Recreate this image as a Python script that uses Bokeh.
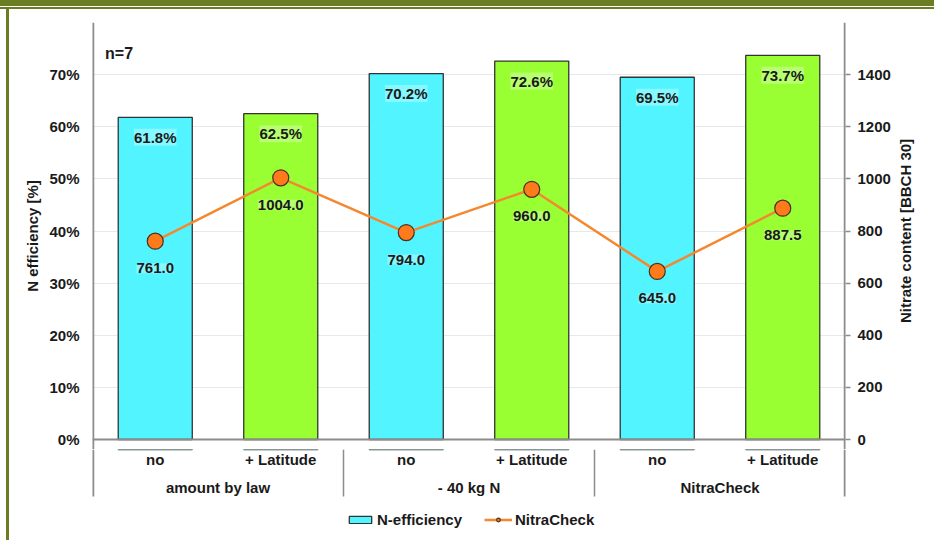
import math
from bokeh.plotting import figure
from bokeh.layouts import column, row
from bokeh.models import (Range1d, LinearAxis, FixedTicker, Span, ColumnDataSource,
                          LabelSet, Label, Legend, LegendItem, CustomJSTickFormatter)
from bokeh.core.properties import value
from bokeh.embed import file_html
from bokeh.resources import INLINE

# ---- data ----
groups = ["amount by law", "- 40 kg N", "NitraCheck"]
subcats = ["no", "+ Latitude", "no", "+ Latitude", "no", "+ Latitude"]
n_efficiency = [61.8, 62.5, 70.2, 72.6, 69.5, 73.7]
nitracheck = [761.0, 1004.0, 794.0, 960.0, 645.0, 887.5]
left_ticks = [0, 10, 20, 30, 40, 50, 60, 70]
right_ticks = [0, 200, 400, 600, 800, 1000, 1200, 1400]
left_title = "N efficiency [%]"
right_title = "Nitrate content [BBCH 30]"
note = "n=7"

FONT = "Liberation Sans"
FS = "15px"
TXT = "#1a1a1a"
CYAN = "#52f5ff"
GREEN = "#99ff33"
ORANGE = "#f5882e"
AXIS_GRAY = "#8c8c8c"

olive = "#6b7d23"
bg = (f"linear-gradient({olive},{olive}) 0 0/100% 6px no-repeat, "
      f"linear-gradient({olive},{olive}) 0 7px/100% 2px no-repeat, "
      f"linear-gradient({olive},{olive}) 6px 7px/3px 100% no-repeat, #ffffff")

n = len(subcats)
xs = [i + 0.5 for i in range(n)]
colors = [CYAN if i % 2 == 0 else GREEN for i in range(n)]

y_top = 80
y_min = -1.918          # room under the zero line in the main panel
y_axis_bottom = -10.96  # where axis lines / separators end in the category panel
y_bottom = -19.38       # page bottom

base = dict(output_backend="svg", toolbar_location=None, border_fill_alpha=0,
            outline_line_color=None)

# ---------------- main panel ----------------
p = figure(width=898, height=449, x_range=Range1d(0, n), y_range=Range1d(y_min, y_top),
           min_border_left=92, min_border_right=53, min_border_top=22, min_border_bottom=0,
           background_fill_color="white", **base)
p.extra_y_ranges = {"nitrate": Range1d(y_min * 20, y_top * 20)}

p.xaxis.visible = False
p.xgrid.visible = False
p.ygrid.ticker = FixedTicker(ticks=left_ticks[1:])
p.ygrid.grid_line_color = "#e2eaea"
p.ygrid.grid_line_width = 1

ya = p.yaxis[0]
ya.ticker = FixedTicker(ticks=left_ticks)
ya.formatter = CustomJSTickFormatter(code="return tick + '%';")
ya.axis_label = left_title
ya.axis_label_text_font = FONT
ya.axis_label_text_font_style = "bold"
ya.axis_label_text_font_size = FS
ya.axis_label_text_color = TXT
ya.axis_label_standoff = 5
ya.major_label_text_font = FONT
ya.major_label_text_font_style = "bold"
ya.major_label_text_font_size = FS
ya.major_label_text_color = TXT
ya.major_tick_out = 0
ya.major_tick_in = 0
ya.minor_tick_out = 0
ya.minor_tick_in = 0
ya.major_label_standoff = 13
ya.axis_line_color = None

ra = LinearAxis(y_range_name="nitrate", ticker=FixedTicker(ticks=right_ticks))
ra.major_label_text_font = FONT
ra.major_label_text_font_style = "bold"
ra.major_label_text_font_size = FS
ra.major_label_text_color = TXT
ra.major_tick_out = 5
ra.major_tick_in = 0
ra.minor_tick_out = 0
ra.minor_tick_in = 0
ra.major_tick_line_color = AXIS_GRAY
ra.major_tick_line_width = 1.5
ra.major_label_standoff = 7
ra.axis_line_color = None
p.add_layout(ra, "right")

p.add_layout(Span(location=0, dimension="width", line_color=AXIS_GRAY, line_width=2))
p.segment(x0=[0, n], x1=[0, n], y0=[y_min, y_min], y1=[y_top, y_top], line_color=AXIS_GRAY,
          line_width=3.5)

src = ColumnDataSource(dict(x=xs, eff=n_efficiency, col=colors,
                            eff_lbl=[f"{v:.1f}%" for v in n_efficiency],
                            nit=nitracheck, nit_lbl=[f"{v:.1f}" for v in nitracheck],
                            sub=subcats, suby=[-3.85] * n))
p.vbar(x="x", top="eff", bottom=0, width=0.59, fill_color="col",
       line_color="#333333", line_width=1.3, source=src)
p.line(x="x", y="nit", y_range_name="nitrate", line_color=ORANGE, line_width=2.5, source=src)
p.scatter(x="x", y="nit", y_range_name="nitrate", size=16, fill_color="#ff7a1a",
          line_color="#4a3020", line_width=1.2, source=src)

p.add_layout(LabelSet(x="x", y="eff", text="eff_lbl", source=src, y_offset=-20,
                      text_align="center", text_baseline="middle",
                      text_font=value(FONT), text_font_style="bold", text_font_size=FS,
                      text_color=TXT, background_fill_color="white",
                      background_fill_alpha=0.3))
p.add_layout(LabelSet(x="x", y="nit", text="nit_lbl", source=src, y_offset=-27,
                      y_range_name="nitrate",
                      text_align="center", text_baseline="middle",
                      text_font=value(FONT), text_font_style="bold", text_font_size=FS,
                      text_color=TXT, background_fill_color="white",
                      background_fill_alpha=0.3))
p.add_layout(Label(x=0.1, y=74.0, text=note, text_baseline="middle", text_font=FONT,
                   text_font_style="bold", text_font_size="16px", text_color=TXT))

# ---------------- right title strip ----------------
r = figure(width=36, height=449, x_range=Range1d(0, 1), y_range=Range1d(y_min, y_top),
           min_border_left=0, min_border_right=0, min_border_top=22, min_border_bottom=0,
           x_axis_location=None, y_axis_location=None, background_fill_alpha=0, **base)
r.grid.visible = False
r.text(x=[0.2], y=[y_top / 2], text=[right_title], angle=math.pi / 2,
       text_align="center", text_baseline="middle", text_font=value(FONT),
       text_font_style="bold", text_font_size=FS, text_color=TXT)

# ---------------- category panel + legend ----------------
q = figure(width=934, height=91, x_range=Range1d(0, n), y_range=Range1d(y_bottom, y_min),
           min_border_left=92, min_border_right=89, min_border_top=0, min_border_bottom=0,
           x_axis_location=None, y_axis_location=None, background_fill_color="white", **base)
q.grid.visible = False
sep_x = [0, 2, 4, n]
q.segment(x0=sep_x, x1=sep_x, y0=[y_axis_bottom] * 4, y1=[y_min] * 4, line_color=AXIS_GRAY,
          line_width=[3.5, 1.5, 1.5, 3.5])
q.text(x="x", y="suby", text="sub", source=src, text_align="center", text_baseline="middle",
       text_font=value(FONT), text_font_style="bold", text_font_size=FS, text_color=TXT)
gsrc = ColumnDataSource(dict(x=[1, 3, 5], y=[-9.23] * 3, t=groups))
q.text(x="x", y="y", text="t", source=gsrc, text_align="center", text_baseline="middle",
       text_font=value(FONT), text_font_style="bold", text_font_size=FS, text_color=TXT)

# legend keys: same series, styled like above (their values lie outside this panel's range)
kb = q.vbar(x="x", top="eff", bottom=0, width=0.59, fill_color=CYAN, line_color="#333333",
            line_width=1.3, source=src)
kl = q.line(x="x", y="nit", line_color=ORANGE, line_width=2.5, source=src)
ks = q.scatter(x="x", y="nit", size=16, fill_color="#ff7a1a", line_color="#4a3020",
               line_width=1.2, source=src)
legend = Legend(items=[LegendItem(label="N-efficiency", renderers=[kb]),
                       LegendItem(label="NitraCheck", renderers=[kl, ks])],
                orientation="horizontal", location=(254, 12),
                label_text_font=FONT, label_text_font_style="bold", label_text_font_size=FS,
                label_text_color=TXT,
                glyph_width=28, glyph_height=9, label_standoff=3, spacing=22,
                padding=2, margin=0, border_line_color=None, background_fill_alpha=0)
q.add_layout(legend)

layout = column(row(p, r, spacing=0), q, spacing=0, styles={"background": bg})
open("out.html", "w").write(file_html(layout, INLINE))
